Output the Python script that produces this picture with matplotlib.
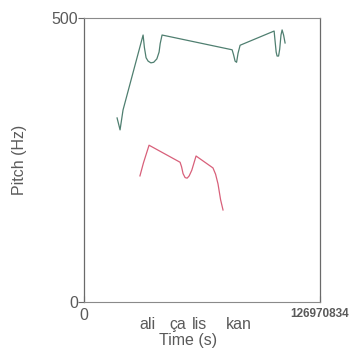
import matplotlib.pyplot as plt
import numpy as np

plt.rcParams['font.family'] = ['Liberation Sans', 'DejaVu Sans']

# pitch contours (time in s, pitch in Hz)
t_end = 1.27
green_t = [0.178, 0.194, 0.210, 0.318, 0.325, 0.334, 0.345, 0.360, 0.375,
           0.392, 0.404, 0.410, 0.420,
           0.797, 0.805, 0.813, 0.821, 0.829, 0.840,
           1.023, 1.028, 1.034, 1.039, 1.047, 1.053, 1.060, 1.066, 1.074,
           1.082]
green_hz = [324, 303, 338, 470, 448, 430, 424, 421, 422,
            428, 440, 455, 470,
            444, 435, 424, 422, 438, 452,
            477, 460, 440, 433, 433, 445, 470, 479, 470,
            456]

red_t = [0.301, 0.320, 0.350, 0.517, 0.525, 0.533, 0.544, 0.555, 0.566,
         0.580, 0.603, 0.694, 0.708, 0.721, 0.735, 0.748]
red_hz = [222, 245, 276, 246, 238, 226, 219, 218, 222,
          232, 257, 236, 225, 208, 180, 162]

syllables = ['ali', 'ça', 'lis', 'kan']
syll_t = [0.339, 0.506, 0.624, 0.834]

fig = plt.figure(figsize=(3.54, 3.56), dpi=100)
ax = fig.add_axes([0.2373, 0.1517, 0.6667, 0.7978])

ax.plot(green_t, green_hz, color='#4f7f70', linewidth=0.9)
ax.plot(red_t, red_hz, color='#d8607a', linewidth=0.9)

ax.set_xlim(0, t_end)
ax.set_ylim(0, 500)

for side in ['top', 'bottom']:
    ax.spines[side].set_color('#8a8a8a')
    ax.spines[side].set_linestyle((0, (4, 1)))
    ax.spines[side].set_linewidth(0.8)
ax.spines['left'].set_color('#6a6a6a')
ax.spines['left'].set_linewidth(0.9)
ax.spines['right'].set_color('#6a6a6a')
ax.spines['right'].set_linewidth(0.9)

gray = '#5a5a5a'
ax.set_yticks([0, 500])
ax.set_yticklabels(['0', '500'], fontsize=11.5, color=gray)
ax.tick_params(axis='y', length=4, width=0.8, color='#6a6a6a', pad=0)
ax.set_xticks([0, t_end])
labels = ax.set_xticklabels(['0', '126970834'], fontsize=11.5, color=gray)
labels[1].set_fontsize(8.5)
labels[1].set_fontweight('bold')
ax.tick_params(axis='x', length=4, width=0.8, color='#6a6a6a', pad=4,
               direction='in')

for s, t in zip(syllables, syll_t):
    ax.text(t, -0.08, s, transform=ax.get_xaxis_transform(), ha='center',
            va='center', fontsize=11.5, color=gray)

ax.text(0.44, -0.135, 'Time (s)', transform=ax.transAxes, ha='center',
        va='center', fontsize=11.5, color=gray)
ax.set_ylabel('Pitch (Hz)', fontsize=11.5, color=gray, labelpad=18)

fig.savefig('out.png', dpi=100)
